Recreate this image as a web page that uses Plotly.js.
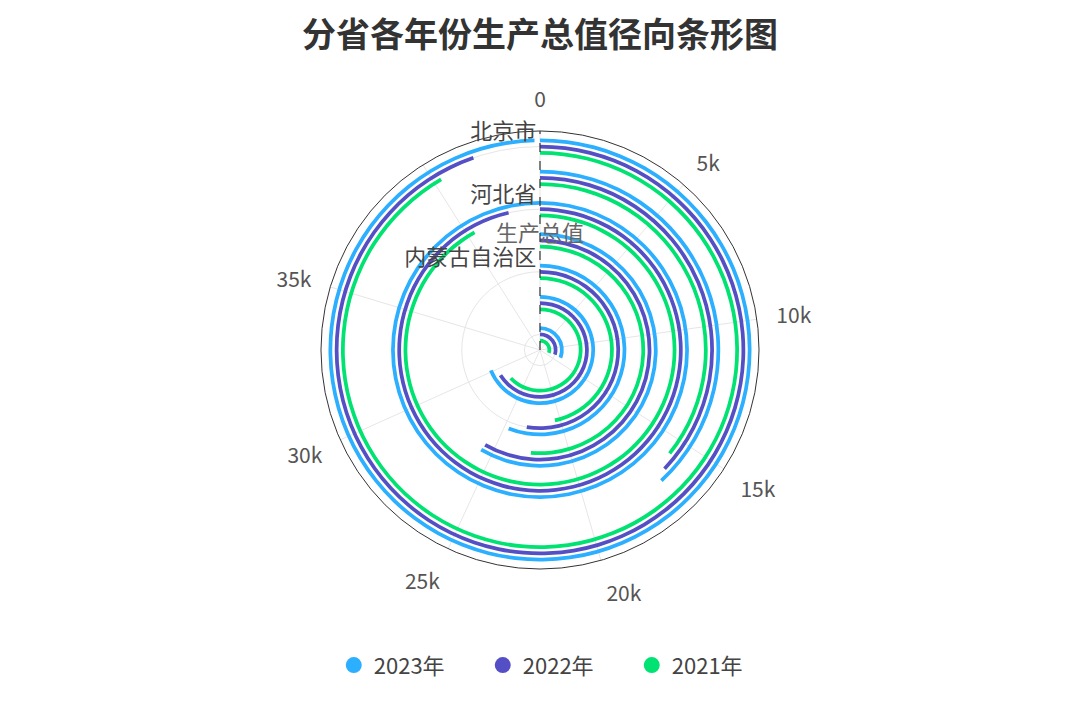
<!DOCTYPE html>
<html>
<head>
<meta charset="utf-8">
<script src="https://cdn.plot.ly/plotly-3.0.1.min.js"></script>
<style>
  html, body { margin: 0; padding: 0; background: #fff; }
  #radialBar { width: 1080px; height: 720px; }
</style>
</head>
<body>
<div id="radialBar"></div>
<script>
// provinces, outermost ring first
const provinces = ["北京市", "天津市", "河北省", "山西省", "内蒙古自治区", "辽宁省", "吉林省"];
const years = ["2023年", "2022年", "2021年"];
const gdp2023 = [43760.7, 16737.3, 43944.1, 25698.2, 24627.0, 30209.4, 13531.2];
const gdp2022 = [41610.9, 16311.3, 42370.4, 25642.6, 23158.6, 28975.1, 13070.2];
const gdp2021 = [40269.6, 15695.1, 40391.3, 22590.2, 20514.2, 27584.1, 13235.5];
const angleTicks = [0, 5000, 10000, 15000, 20000, 25000, 30000, 35000, 40000];
const angleTickText = ["0", "5k", "10k", "15k", "20k", "25k", "30k", "35k", ""];
const shownProvinces = ["北京市", "河北省", "内蒙古自治区", "吉林省"];
const shownProvinceText = ["北京市", "河北省", "内蒙古自治区", ""];
const radiusName = "生产总值";
const chartTitle = "分省各年份生产总值径向条形图";

const colors = ["#2caffe", "#544fc5", "#00e272"];
const seriesShift = [0.2, 0, -0.2]; // ring offset inside a category band
const barThick = 0.12;

const series = [gdp2023, gdp2022, gdp2021];
const n = provinces.length;
// angle axis max = data max, like the original
const maxVal = Math.max(...series.flat());
const toDeg = (v) => (v * 360) / maxVal;
const ringPos = (name) => n - provinces.indexOf(name) - 0.5;

var traces = [];
series.forEach((vals, k) => {
  traces.push({
    type: "barpolar",
    name: years[k],
    theta: vals.map((v) => toDeg(v) / 2),
    width: vals.map((v) => toDeg(v)),
    base: provinces.map((p) => ringPos(p) + seriesShift[k] - barThick / 2),
    r: vals.map(() => barThick),
    marker: { color: colors[k], line: { width: 0 } },
    showlegend: false,
    hovertemplate: "%{customdata}: %{text}<extra>" + years[k] + "</extra>",
    customdata: provinces,
    text: vals,
  });
});

// legend entries with round markers
years.forEach((y, k) => {
  traces.push({
    type: "scatterpolar",
    name: y,
    r: [null],
    theta: [null],
    mode: "markers",
    marker: { color: colors[k], size: 20, symbol: "circle" },
    hoverinfo: "skip",
  });
});

// dashed radius axis line
traces.push({
  type: "scatterpolar",
  r: [0, n],
  theta: [0, 0],
  mode: "lines",
  line: { color: "#333", width: 1.2, dash: "dash" },
  showlegend: false,
  hoverinfo: "skip",
});

var layout = {
  width: 1080,
  height: 720,
  paper_bgcolor: "#fff",
  margin: { l: 0, r: 0, t: 0, b: 0 },
  font: { family: "Noto Sans CJK SC, Noto Sans, sans-serif", color: "#555", size: 21 },
  title: {
    text: "<b>" + chartTitle + "</b>",
    font: { size: 34, color: "#333", family: "Noto Sans CJK SC, sans-serif" },
    x: 0.5,
    xanchor: "center",
    y: 0.951,
    yanchor: "middle",
  },
  showlegend: true,
  legend: {
    orientation: "h",
    x: 0.516,
    xanchor: "center",
    y: 0.076,
    yanchor: "middle",
    font: { size: 22, color: "#444" },
    entrywidth: 104,
    itemsizing: "trace",
  },
  polar: {
    domain: { x: [0.2972, 0.7028], y: [0.2097, 0.8181] },
    bgcolor: "#fff",
    angularaxis: {
      direction: "clockwise",
      rotation: 90,
      tickmode: "array",
      tickvals: angleTicks.map(toDeg),
      ticktext: angleTickText,
      ticks: "outside",
      ticklen: 15,
      tickcolor: "rgba(0,0,0,0)",
      showline: true,
      linecolor: "#333",
      linewidth: 1,
      gridcolor: "#e6e6e6",
      tickfont: { size: 21, color: "#555" },
    },
    radialaxis: {
      range: [0, n],
      angle: 90,
      side: "counterclockwise",
      tickmode: "array",
      tickvals: shownProvinces.map(ringPos),
      // blank second line lifts each label a little above its ring
      ticktext: shownProvinceText.map((t) => (t ? t + "<br> " : t)),
      tickangle: 90,
      ticks: "",
      showline: false,
      gridcolor: "#e6e6e6",
      tickfont: { size: 22, color: "#444" },
    },
  },
  annotations: [
    {
      text: radiusName,
      xref: "paper",
      yref: "paper",
      x: 0.5,
      y: 1 - 213 / 720,
      showarrow: false,
      font: { size: 22, color: "#666" },
    },
  ],
};

Plotly.newPlot("radialBar", traces, layout, { displayModeBar: false, staticPlot: true });
</script>
</body>
</html>
